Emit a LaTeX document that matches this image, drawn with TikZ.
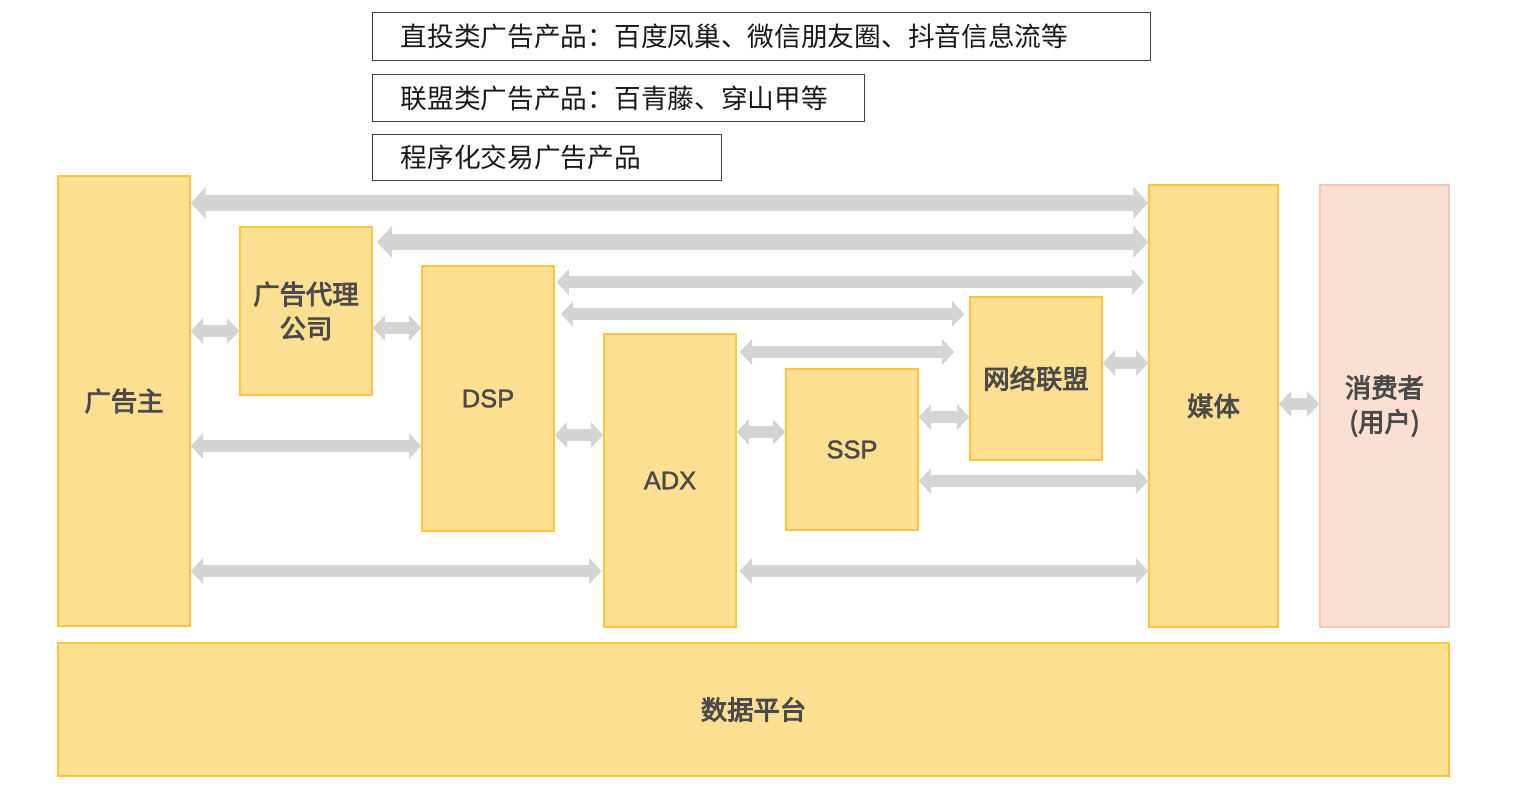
\documentclass[tikz,border=0pt]{standalone}
\usepackage{fontspec}
\setmainfont{Liberation Sans}
\newfontfamily\latinmed{Liberation Sans}[FakeBold=1.6]
\newfontfamily\cjk{Noto Sans CJK SC}
\newfontfamily\cjkb{Noto Sans CJK SC}[FakeBold=3.2]
\usetikzlibrary{arrows.meta}
\definecolor{boxfill}{HTML}{FDDF91}
\definecolor{boxline}{HTML}{F9C440}
\definecolor{pinkfill}{HTML}{FADFD2}
\definecolor{pinkline}{HTML}{F3C9B5}
\definecolor{arrgray}{HTML}{D4D4D4}
\definecolor{labelgray}{HTML}{4A4A4A}
\begin{document}
\begin{tikzpicture}[x=0.02cm,y=-0.02cm,
  box/.style={draw=boxline, fill=boxfill, line width=0.9pt, text=labelgray,
    font=\cjkb\fontsize{15}{19.5}\selectfont, align=center, inner sep=0pt},
  latinbox/.style={box, font=\latinmed\fontsize{14.5}{19}\selectfont},
  pinkbox/.style={box, draw=pinkline, fill=pinkfill},
  topbox/.style={draw=black!75, line width=0.8pt, anchor=north west, inner xsep=0.56cm, inner ysep=0pt,
    align=left, text=black!90, font=\cjk\fontsize{15.2}{18}\selectfont},
  arr/.style={draw=arrgray, line width=7.2pt, {Triangle[width=14.5pt,length=7pt]}-{Triangle[width=14.5pt,length=7pt]}},
  bigarr/.style={draw=arrgray, line width=9pt, {Triangle[width=18pt,length=8.5pt]}-{Triangle[width=18pt,length=8.5pt]}}
]
\useasboundingbox (0,0) rectangle (1526,786);

% top text boxes
\node[topbox, text width=14.44cm, minimum height=0.96cm] (t1) at (372,12) {直投类广告产品：百度凤巢、微信朋友圈、抖音信息流等};
\node[topbox, text width=8.72cm, minimum height=0.94cm] (t2) at (372,74) {联盟类广告产品：百青藤、穿山甲等};
\node[topbox, text width=5.86cm, minimum height=0.92cm] (t3) at (372,134) {程序化交易广告产品};

% main boxes
\node[box, minimum width=2.64cm, minimum height=9.0cm] (adv) at (124,401) {广告主};
\node[box, minimum width=2.64cm, minimum height=3.36cm] (agency) at (306,311) {广告代理\\公司};
\node[latinbox, minimum width=2.64cm, minimum height=5.3cm] (dsp) at (488,398.5) {DSP};
\node[latinbox, minimum width=2.64cm, minimum height=5.86cm] (adx) at (670,480.5) {ADX};
\node[latinbox, minimum width=2.64cm, minimum height=3.22cm] (ssp) at (852,449.5) {SSP};
\node[box, minimum width=2.64cm, minimum height=3.26cm] (union) at (1036,378.5) {网络联盟};
\node[box, minimum width=2.58cm, minimum height=8.84cm] (media) at (1213.5,406) {媒体};
\node[pinkbox, minimum width=2.58cm, minimum height=8.84cm] (user) at (1384.5,406) {消费者\\(用户)};
\node[box, minimum width=27.82cm, minimum height=2.66cm] (data) at (753.5,709.5) {数据平台};

% arrows
\draw[bigarr] (adv.east |- 0,203) -- (media.west |- 0,203);
\draw[bigarr, shorten <=2.5pt] (agency.east |- 0,242) -- (media.west |- 0,242);
\draw[arr, shorten <=1pt, shorten >=2.3pt] (dsp.east |- 0,282) -- (media.west |- 0,282);
\draw[arr, shorten <=3.5pt, shorten >=2.8pt] (dsp.east |- 0,314) -- (union.west |- 0,314);
\draw[arr, shorten <=1.7pt, shorten >=8.5pt] (adx.east |- 0,352) -- (union.west |- 0,352);
\draw[arr] (adv.east |- 0,331) -- (agency.west |- 0,331);
\draw[arr] (agency.east |- 0,328) -- (dsp.west |- 0,328);
\draw[arr] (adv.east |- 0,446) -- (dsp.west |- 0,446);
\draw[arr] (dsp.east |- 0,435) -- (adx.west |- 0,435);
\draw[arr] (adx.east |- 0,432) -- (ssp.west |- 0,432);
\draw[arr] (ssp.east |- 0,417) -- (union.west |- 0,417);
\draw[arr] (union.east |- 0,363) -- (media.west |- 0,363);
\draw[arr] (ssp.east |- 0,481) -- (media.west |- 0,481);
\draw[arr, shorten >=1pt] (adv.east |- 0,571) -- (adx.west |- 0,571);
\draw[arr, shorten <=1.7pt] (adx.east |- 0,571) -- (media.west |- 0,571);
\draw[arr] (media.east |- 0,404) -- (user.west |- 0,404);
\end{tikzpicture}
\end{document}
